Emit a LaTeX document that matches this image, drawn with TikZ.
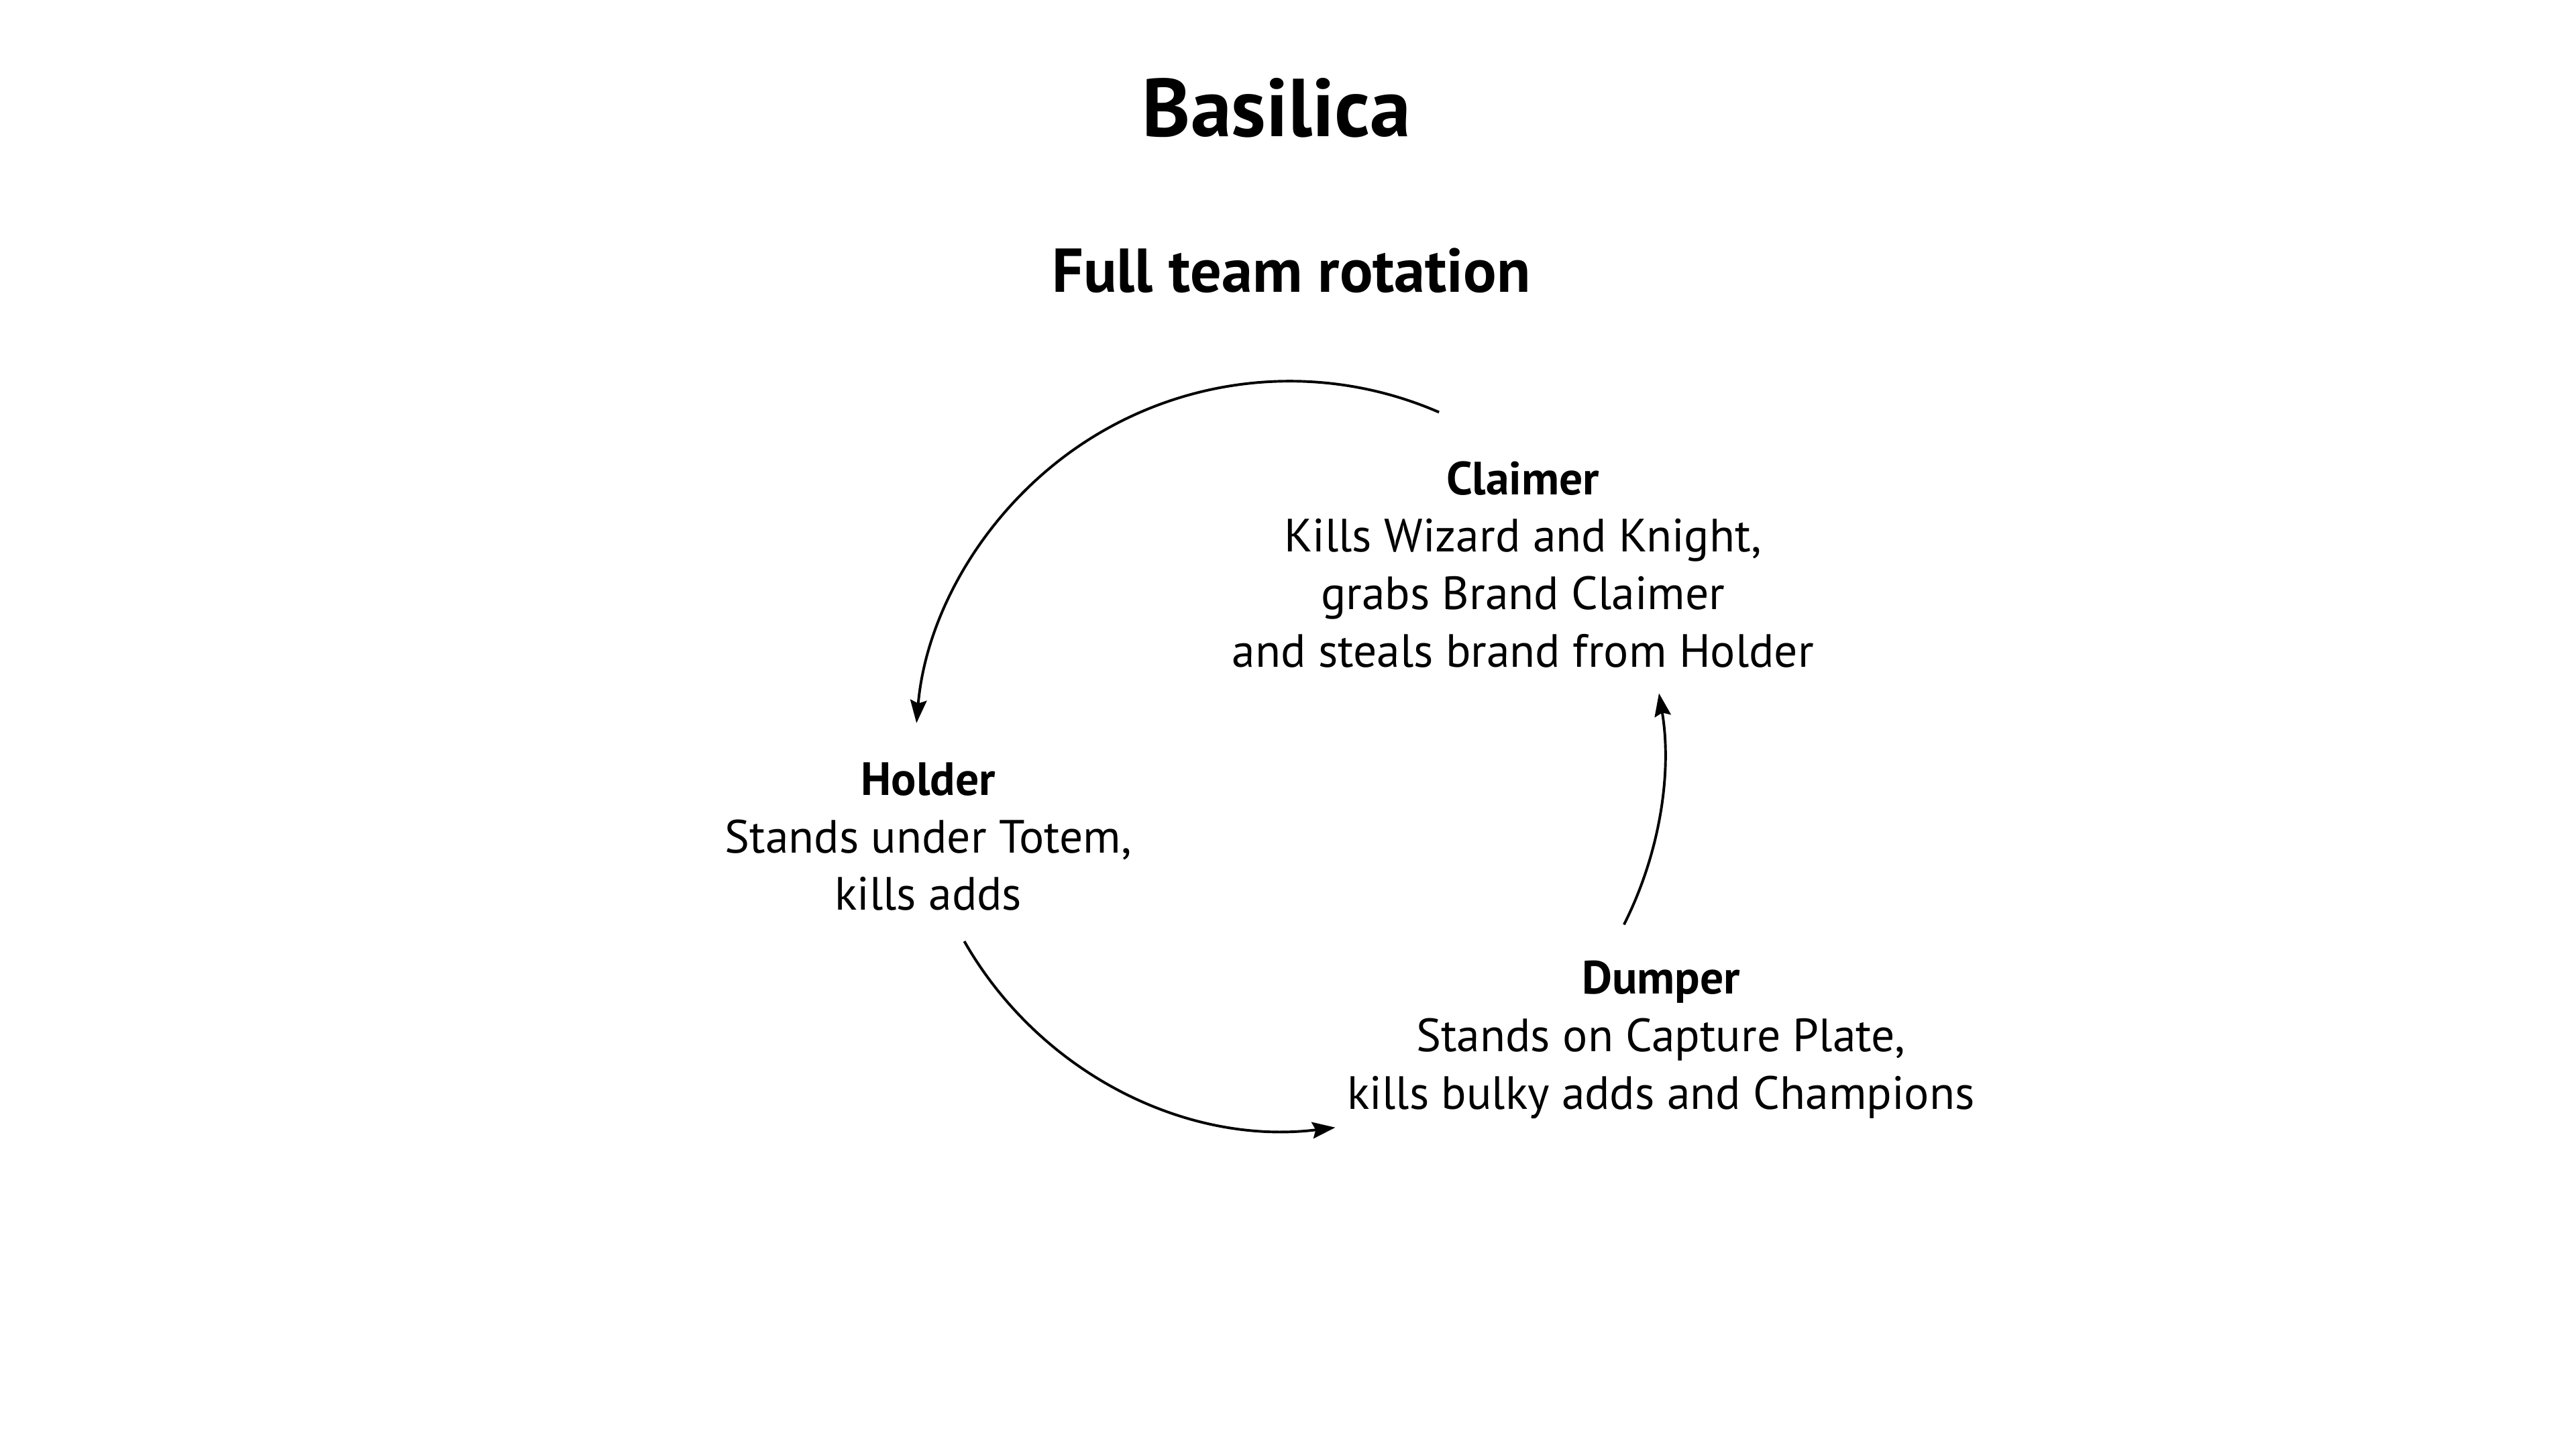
\documentclass[tikz,border=0pt]{standalone}
\usepackage{fontspec}
\setmainfont{PT Sans}
\usetikzlibrary{arrows.meta,positioning}
\tikzset{
  ttl/.style={inner sep=0pt,anchor=base,font=\fontsize{50}{60}\selectfont\bfseries},
  subttl/.style={inner sep=0pt,anchor=base,font=\fontsize{37.7}{45}\selectfont\bfseries},
  role/.style={inner sep=0pt,anchor=base,align=center,font=\fontsize{28.4}{35}\selectfont},
  arr/.style={-{Stealth[length=14pt,width=10pt,inset=2pt]},line width=1.6pt},
}

\begin{document}
\begin{tikzpicture}[x=1pt,y=1pt]
  \fill[white] (0,0) rectangle (1568,-882);
  \useasboundingbox (0,0) rectangle (1568,-882);
  % titles
  \node[ttl] (title) at (777,-83) {Basilica};
  \node[subttl] (subtitle) at (786,-178) {Full team rotation};
  % roles (base sits on the last line)
  \node[role] (claimer) at (927,-406) {\textbf{Claimer}\\Kills Wizard and Knight,\\grabs Brand Claimer\\and steals brand from Holder};
  \node[role] (holder) at (565,-554) {\textbf{Holder}\\Stands under Totem,\\kills adds};
  \node[role] (dumper) at (1011,-675) {\textbf{Dumper}\\Stands on Capture Plate,\\kills bulky adds and Champions};
  % rotation arcs round the hub
  \coordinate (hub) at (785,-460);
  \draw[arr] ([shift={(66.5:228pt)}]hub) arc[start angle=66.5,end angle=175,radius=228pt];
  \draw[arr] ([shift={(209.7:228pt)}]hub) arc[start angle=209.7,end angle=277,radius=228pt];
  \draw[arr] ([shift={(333.2:228pt)}]hub) arc[start angle=333.2,end angle=369.6,radius=228pt];
\end{tikzpicture}
\end{document}
